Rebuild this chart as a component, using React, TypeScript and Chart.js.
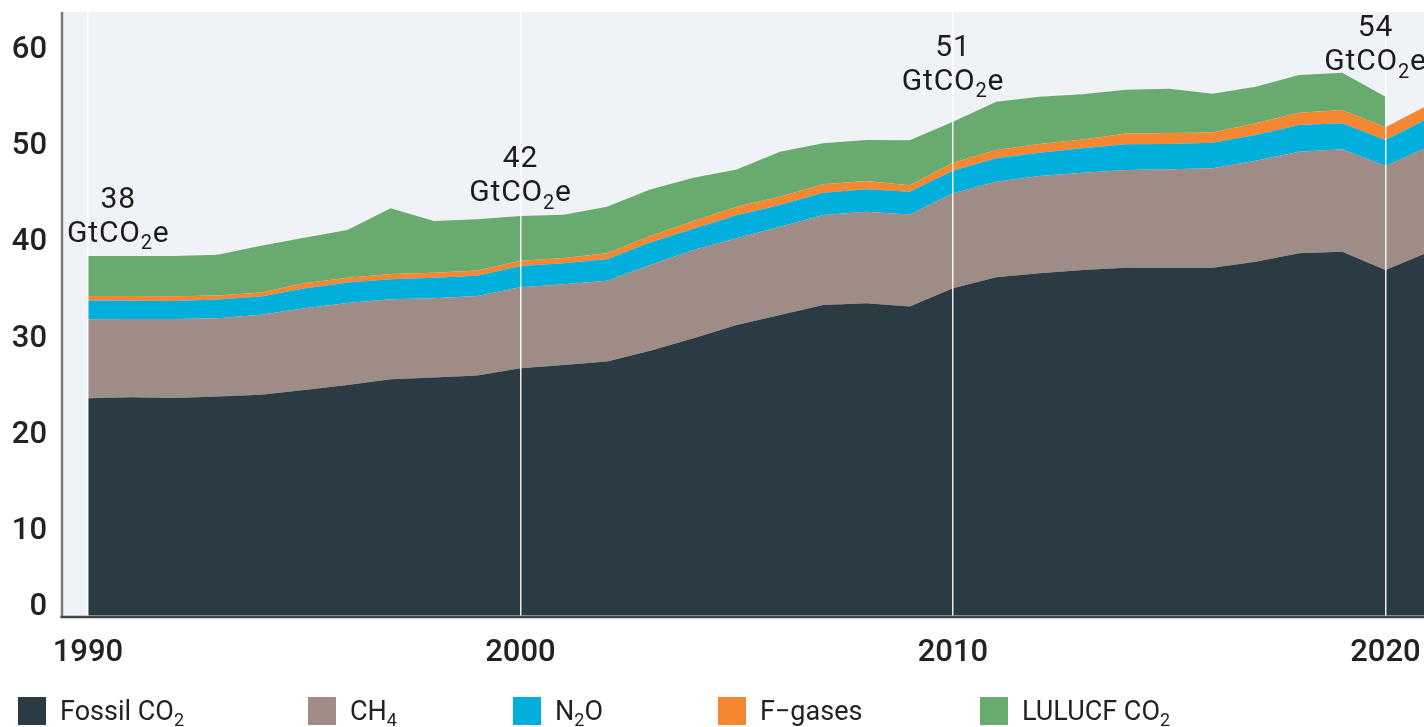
import React, { useEffect, useRef } from "react";
import { Chart, registerables } from "chart.js";

Chart.register(...registerables);

// ---- data (GtCO2e) ----
const years = [
  1990, 1991, 1992, 1993, 1994, 1995, 1996, 1997, 1998, 1999,
  2000, 2001, 2002, 2003, 2004, 2005, 2006, 2007, 2008, 2009,
  2010, 2011, 2012, 2013, 2014, 2015, 2016, 2017, 2018, 2019,
  2020, 2021,
];
const fossilCO2 = [
  22.58, 22.69, 22.61, 22.75, 22.93, 23.44, 23.96, 24.55, 24.72, 24.93,
  25.7, 26.04, 26.38, 27.5, 28.81, 30.19, 31.22, 32.26, 32.44, 32.09,
  33.99, 35.13, 35.55, 35.89, 36.13, 36.1, 36.13, 36.75, 37.62, 37.79,
  35.89, 37.76,
];
const ch4 = [
  8.2, 8.12, 8.2, 8.13, 8.3, 8.47, 8.51, 8.3, 8.24, 8.27,
  8.4, 8.37, 8.4, 8.9, 9.16, 8.99, 9.16, 9.34, 9.5, 9.56,
  9.85, 9.92, 10.09, 10.09, 10.13, 10.24, 10.31, 10.48, 10.54, 10.62,
  10.79, 10.92,
];
const n2o = [
  1.93, 1.88, 1.87, 1.95, 1.9, 2.05, 2.13, 2.08, 2.13, 2.08,
  2.2, 2.18, 2.22, 2.33, 2.2, 2.4, 2.26, 2.31, 2.32, 2.36,
  2.34, 2.43, 2.42, 2.55, 2.68, 2.62, 2.66, 2.67, 2.77, 2.7,
  2.7, 2.95,
];
const fGases = [
  0.49, 0.5, 0.47, 0.42, 0.43, 0.55, 0.48, 0.55, 0.52, 0.55,
  0.55, 0.53, 0.62, 0.68, 0.79, 0.86, 0.86, 0.87, 0.86, 0.66,
  0.83, 0.86, 0.9, 0.9, 1.1, 1.14, 1.06, 1.21, 1.28, 1.38,
  1.32, 1.41,
];
const lulucfCO2: (number | null)[] = [
  4.15, 4.15, 4.2, 4.22, 4.84, 4.72, 4.95, 6.82, 5.36, 5.33,
  4.64, 4.49, 4.83, 4.84, 4.5, 3.88, 4.67, 4.25, 4.25, 4.69,
  4.25, 5.01, 4.91, 4.7, 4.56, 4.59, 4.01, 3.8, 3.91, 3.87,
  3.17, null,
];

const seriesNames = ["Fossil CO₂", "CH₄", "N₂O", "F-gases", "LULUCF CO₂"];
const seriesColors = ["#2b3b43", "#a08c86", "#00afdb", "#f58733", "#69aa6e"];

const xTickValues = [1990, 2000, 2010, 2020];
const yTickValues = [0, 10, 20, 30, 40, 50, 60];

// total annotations
const annotationYears = [1990.7, 2000, 2010, 2019.77];
const annotationTotals = ["38", "42", "51", "54"];
const annotationLevels = [38.8, 43.0, 54.6, 56.6];

type Part = [string, boolean];
const legendLabels: Part[][] = [
  [["Fossil CO", false], ["2", true]],
  [["CH", false], ["4", true]],
  [["N", false], ["2", true], ["O", false]],
  [["F−gases", false]],
  [["LULUCF CO", false], ["2", true]],
];
const unitLabel: Part[] = [["GtCO", false], ["2", true], ["e", false]];

const FONT = "Roboto, 'Noto Sans', sans-serif";

function drawRich(
  ctx: CanvasRenderingContext2D,
  parts: Part[],
  x: number,
  y: number,
  size: number,
  align: "left" | "center",
  weight = "400"
) {
  const subSize = Math.round(size * 0.68);
  ctx.textAlign = "left";
  ctx.textBaseline = "alphabetic";
  const widths = parts.map(([t, sub]) => {
    ctx.font = `${weight} ${sub ? subSize : size}px ${FONT}`;
    return ctx.measureText(t).width;
  });
  const total = widths.reduce((a, b) => a + b, 0);
  let cx = align === "center" ? x - total / 2 : x;
  parts.forEach(([t, sub], i) => {
    ctx.font = `${weight} ${sub ? subSize : size}px ${FONT}`;
    ctx.fillText(t, cx, sub ? y + size * 0.24 : y);
    cx += widths[i];
  });
}

const decorPlugin = {
  id: "decor",
  beforeDraw(chart: any) {
    const { ctx, chartArea: a } = chart;
    ctx.save();
    ctx.fillStyle = "#eff3f7";
    ctx.fillRect(a.left, a.top, a.right - a.left, a.bottom - a.top);
    ctx.restore();
  },
  afterDraw(chart: any) {
    const { ctx, chartArea: a } = chart;
    const xs = chart.scales.x;
    const ys = chart.scales.y;
    ctx.save();
    // axis lines
    ctx.strokeStyle = "#7d7d7d";
    ctx.lineWidth = 2.5;
    ctx.beginPath();
    ctx.moveTo(a.left - 1, a.top);
    ctx.lineTo(a.left - 1, a.bottom + 2);
    ctx.stroke();
    ctx.strokeStyle = "#3d4347";
    ctx.beginPath();
    ctx.moveTo(a.left - 2.5, a.bottom + 1.2);
    ctx.lineTo(a.right, a.bottom + 1.2);
    ctx.stroke();

    // y tick labels
    ctx.fillStyle = "#222";
    ctx.font = `500 31px ${FONT}`;
    ctx.textAlign = "right";
    ctx.textBaseline = "alphabetic";
    yTickValues.forEach((v) => {
      const py = ys.getPixelForValue(v);
      ctx.fillText(String(v), 47, v === 0 ? py - 1 : py + 20);
    });

    // annotations
    ctx.fillStyle = "#1c1c1c";
    if ("letterSpacing" in ctx) (ctx as any).letterSpacing = "0.8px";
    annotationYears.forEach((yr, i) => {
      const cx = xs.getPixelForValue(yr);
      const by = ys.getPixelForValue(annotationLevels[i]);
      ctx.font = `400 30px ${FONT}`;
      ctx.textAlign = "center";
      ctx.fillText(annotationTotals[i], cx, by - 34);
      drawRich(ctx, unitLabel, cx, by, 30, "center");
    });
    if ("letterSpacing" in ctx) (ctx as any).letterSpacing = "0px";

    // legend
    const legendX = [18, 308, 513, 718, 980];
    legendLabels.forEach((parts, i) => {
      ctx.fillStyle = seriesColors[i];
      ctx.fillRect(legendX[i], 697, 28, 28);
      ctx.fillStyle = "#222";
      drawRich(ctx, parts, legendX[i] + 42, 720, 27, "left");
    });
    ctx.restore();
  },
};

export default function App() {
  const canvasRef = useRef<HTMLCanvasElement | null>(null);

  useEffect(() => {
    if (!canvasRef.current) return;
    const series = [fossilCO2, ch4, n2o, fGases, lulucfCO2];
    const chart = new Chart(canvasRef.current, {
      type: "line",
      data: {
        datasets: series.map((arr, i) => ({
          label: seriesNames[i],
          data: years.map((yr, j) => ({ x: yr, y: arr[j] })),
          backgroundColor: seriesColors[i],
          borderColor: seriesColors[i],
          borderWidth: 0,
          pointRadius: 0,
          tension: 0,
          fill: i === 0 ? "origin" : "-1",
        })),
      },
      options: {
        animation: false,
        responsive: true,
        maintainAspectRatio: false,
        layout: { padding: { top: 12, left: 63, right: 9, bottom: 36 } },
        plugins: { legend: { display: false }, tooltip: { enabled: false } },
        scales: {
          x: {
            type: "linear",
            min: 1989.423,
            max: 2021,
            grid: { color: "rgba(255,255,255,0.9)", lineWidth: 1.5, drawTicks: false, z: 1 },
            border: { display: false },
            ticks: {
              padding: 19,
              color: "#222",
              font: { family: FONT, size: 31, weight: "500" },
              callback: (v: any) => String(v),
            },
            afterBuildTicks: (s: any) => {
              s.ticks = xTickValues.map((v) => ({ value: v }));
            },
          },
          y: {
            display: false,
            stacked: true,
            min: 0,
            max: 62.66,
          },
        },
      },
      plugins: [decorPlugin],
    } as any);
    return () => chart.destroy();
  }, []);

  return (
    <div
      style={{
        position: "fixed",
        top: 0,
        left: 0,
        width: 1424,
        height: 727,
        overflow: "hidden",
        background: "#fff",
      }}
    >
      <div style={{ position: "relative", width: 1440, height: 727 }}>
        <canvas ref={canvasRef} />
      </div>
    </div>
  );
}
